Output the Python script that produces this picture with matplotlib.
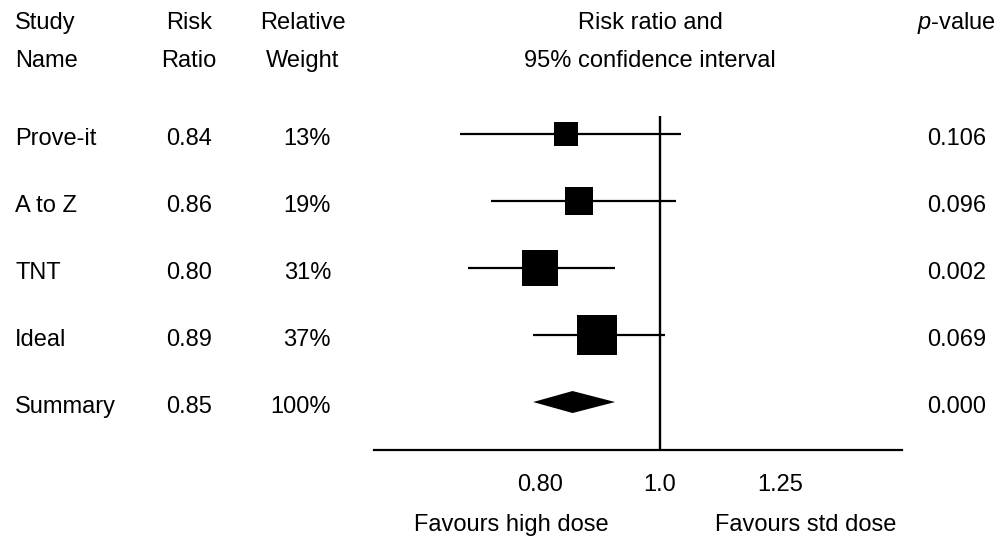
import numpy as np
import matplotlib.pyplot as plt
from matplotlib.patches import Polygon
from matplotlib.ticker import NullLocator
from matplotlib.transforms import blended_transform_factory

plt.rcParams['font.family'] = ['Liberation Sans', 'DejaVu Sans']
plt.rcParams['mathtext.fontset'] = 'custom'
plt.rcParams['mathtext.rm'] = 'Liberation Sans'
plt.rcParams['mathtext.it'] = 'Liberation Sans:italic'

# data
studies = ['Prove-it', 'A to Z', 'TNT', 'Ideal']
rr = [0.84, 0.86, 0.80, 0.89]
ci_low = [0.69, 0.73, 0.70, 0.79]
ci_high = [1.04, 1.03, 0.92, 1.01]
weights = [13, 19, 31, 37]
p_values = ['0.106', '0.096', '0.002', '0.069']

summary_label = 'Summary'
summary_rr = 0.85
summary_low = 0.79
summary_high = 0.92
summary_weight = 100
summary_p = '0.000'

x_ticks = [0.80, 1.0, 1.25]
x_tick_labels = ['0.80', '1.0', '1.25']

W, H = 1002, 540
fs = 17

fig = plt.figure(figsize=(W / 100, H / 100), dpi=100)
ax = fig.add_axes([374 / W, 90 / H, (902 - 374) / W, (450 - 116) / H])
ax.set_xscale('log')
ax.set_xlim(0.5877, 1.568)
ax.set_ylim(4.716, -0.269)

for i in range(len(studies)):
    ax.plot([ci_low[i], ci_high[i]], [i, i], color='black', lw=1.6,
            solid_capstyle='butt', zorder=2)
    side = 6.45 * np.sqrt(weights[i]) * 0.72
    ax.plot(rr[i], i, marker='s', ms=side, color='black', mew=0, zorder=3)

ys = len(studies)
h = 11 / 67
ax.add_patch(Polygon([(summary_low, ys), (summary_rr, ys - h),
                      (summary_high, ys), (summary_rr, ys + h)],
                     closed=True, color='black', lw=0))

ax.axvline(1.0, color='black', lw=1.7, zorder=1)

for s in ['top', 'left', 'right']:
    ax.spines[s].set_visible(False)
ax.spines['bottom'].set_linewidth(1.6)
ax.set_yticks([])
ax.set_xticks(x_ticks)
ax.set_xticklabels(x_tick_labels, fontsize=fs)
ax.xaxis.set_minor_locator(NullLocator())
ax.tick_params(axis='x', length=0, pad=17)

# table columns
tr = blended_transform_factory(fig.transFigure, ax.transData)
names = studies + [summary_label]
ratios = rr + [summary_rr]
wts = weights + [summary_weight]
ps = p_values + [summary_p]
for i in range(len(names)):
    y = i + 0.17
    fig.text(15 / W, y, names[i], transform=tr, ha='left', va='baseline', fontsize=fs)
    fig.text(189 / W, y, f'{ratios[i]:.2f}', transform=tr, ha='center', va='baseline', fontsize=fs)
    fig.text(331 / W, y, f'{wts[i]}%', transform=tr, ha='right', va='baseline', fontsize=fs)
    fig.text(957 / W, y, ps[i], transform=tr, ha='center', va='baseline', fontsize=fs)

# header
y1 = 1 - 29 / H
y2 = 1 - 67 / H
fig.text(15 / W, y1, 'Study', ha='left', va='baseline', fontsize=fs)
fig.text(15 / W, y2, 'Name', ha='left', va='baseline', fontsize=fs)
fig.text(189 / W, y1, 'Risk', ha='center', va='baseline', fontsize=fs)
fig.text(189 / W, y2, 'Ratio', ha='center', va='baseline', fontsize=fs)
fig.text(303 / W, y1, 'Relative', ha='center', va='baseline', fontsize=fs)
fig.text(303 / W, y2, 'Weight', ha='center', va='baseline', fontsize=fs)
fig.text(650 / W, y1, 'Risk ratio and', ha='center', va='baseline', fontsize=fs)
fig.text(650 / W, y2, '95% confidence interval', ha='center', va='baseline', fontsize=fs)
fig.text(957 / W, y1, r'$\mathit{p}$-value', ha='center', va='baseline', fontsize=fs)

# footer
fig.text(511 / W, 1 - 531 / H, 'Favours high dose', ha='center', va='baseline', fontsize=fs)
fig.text(806 / W, 1 - 531 / H, 'Favours std dose', ha='center', va='baseline', fontsize=fs)

fig.savefig('out.png', dpi=100)
